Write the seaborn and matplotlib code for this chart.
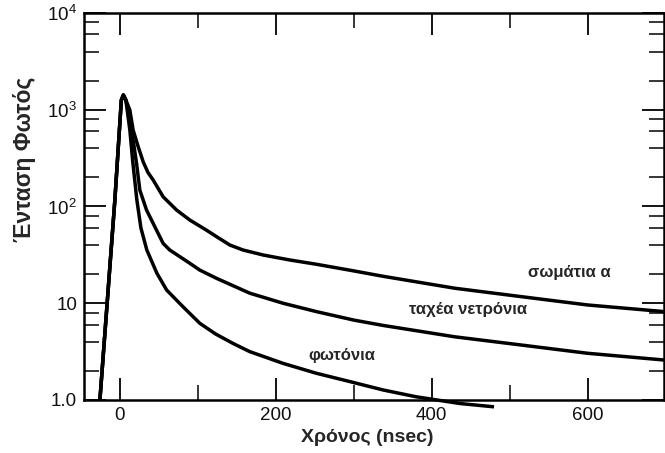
import matplotlib
matplotlib.use("Agg")
import matplotlib.pyplot as plt
import matplotlib.ticker as mticker
import seaborn as sns
import pandas as pd

# ---- data ----
t_alpha = [-25.6, -6.4, 1.9, 4.5, 7.7, 12.8, 17.0, 23.5, 29.9, 36, 42.7, 55.5, 72.7, 89.7,
           111, 124, 141, 158, 184, 218, 252, 300, 337.6, 429.5, 515, 600, 698]
v_alpha = [1.0, 117, 1260, 1420, 1260, 993, 617, 415, 290, 225, 188, 126, 92, 72.5,
           57, 48.8, 40, 35.5, 31.5, 28, 25.3, 21.6, 19.0, 14.3, 11.7, 9.6, 8.2]

t_neutron = [-25.6, -6.4, 1.9, 4.5, 7.7, 12.8, 17.0, 21.4, 25.6, 34.2, 47, 55.5, 64,
             89.7, 102.6, 124, 166.7, 209.4, 252, 300, 337.6, 429.5, 515, 600, 698]
v_neutron = [1.0, 117, 1260, 1420, 1260, 784, 487, 279, 148, 92, 57, 41.6, 35.5,
             25.9, 22, 18.1, 12.7, 10.0, 8.2, 6.7, 5.9, 4.5, 3.7, 3.04, 2.59]

t_photon = [-25.6, -6.4, 1.9, 4.5, 7.7, 12.8, 16.7, 21.8, 27, 34.6, 47.4, 60, 81, 102.6,
            123, 145, 166.7, 209.4, 252, 295, 337.6, 380, 436, 480]
v_photon = [1.0, 117, 1260, 1420, 1260, 617, 282, 117, 60, 35.5, 20.5, 13.7, 9.2, 6.2,
            4.8, 3.85, 3.16, 2.39, 1.89, 1.55, 1.27, 1.08, 0.92, 0.85]

series_names = ["σωμάτια α", "ταχέα νετρόνια", "φωτόνια"]
label_t = [577, 447, 285]
label_v = [21, 8.7, 2.85]

x_ticks = [0, 200, 400, 600]
x_minor = [100, 300, 500]
y_ticks = [1, 10, 100, 1000, 10000]
y_tick_labels = ["1.0", "10", "$10^2$", "$10^3$", "$10^4$"]

xlabel = "Χρόνος (nsec)"
ylabel = "Ένταση Φωτός"

# ---- build table ----
frames = []
for name, t, v in zip(series_names, [t_alpha, t_neutron, t_photon],
                      [v_alpha, v_neutron, v_photon]):
    frames.append(pd.DataFrame({"t": t, "v": v, "series": name}))
df = pd.concat(frames, ignore_index=True)

sns.set_style("ticks")
plt.rcParams["font.family"] = ["Liberation Sans", "DejaVu Sans"]
plt.rcParams["mathtext.default"] = "regular"

fig = plt.figure(figsize=(6.65, 4.53), dpi=100)
ax = fig.add_axes([84 / 665, 1 - 400 / 453, 580 / 665, 387 / 453])

sns.lineplot(data=df, x="t", y="v", hue="series", units="series", estimator=None,
             sort=False, palette=["black"] * 3, linewidth=2.5, legend=False, ax=ax)
for line in ax.lines:
    line.set_clip_on(False)
    line.set_solid_joinstyle("round")
    line.set_solid_capstyle("butt")

ax.set_yscale("log")
ax.set_xlim(-46, 698)
ax.set_ylim(1, 10000)

ax.yaxis.set_major_locator(mticker.FixedLocator(y_ticks))
ax.yaxis.set_major_formatter(mticker.FixedFormatter(y_tick_labels))
ax.yaxis.set_minor_locator(mticker.LogLocator(base=10, subs=(2, 4, 6, 8)))
ax.yaxis.set_minor_formatter(mticker.NullFormatter())
ax.xaxis.set_major_locator(mticker.FixedLocator(x_ticks))
ax.xaxis.set_minor_locator(mticker.FixedLocator(x_minor))

ax.tick_params(which="both", direction="in", top=True, right=True, color="black",
               labelsize=13.5, labelcolor="#111111")
ax.tick_params(which="major", length=16, width=1.3, pad=5)
ax.tick_params(which="minor", length=11, width=1.1)
for s in ax.spines.values():
    s.set_linewidth(1.8)
    s.set_color("black")

ax.set_xlabel(xlabel, fontsize=14, fontweight="bold")
ax.set_ylabel(ylabel, fontsize=16.5, fontweight="bold")
ax.xaxis.set_label_coords((367 - 84) / 580, -29 / 387)
ax.yaxis.set_label_coords(-48 / 580, (400 - 159) / 387)

for name, x, y in zip(series_names, label_t, label_v):
    ax.text(x, y, name, fontsize=12, fontweight="bold", ha="center", va="center")

fig.savefig("out.png", dpi=100)
